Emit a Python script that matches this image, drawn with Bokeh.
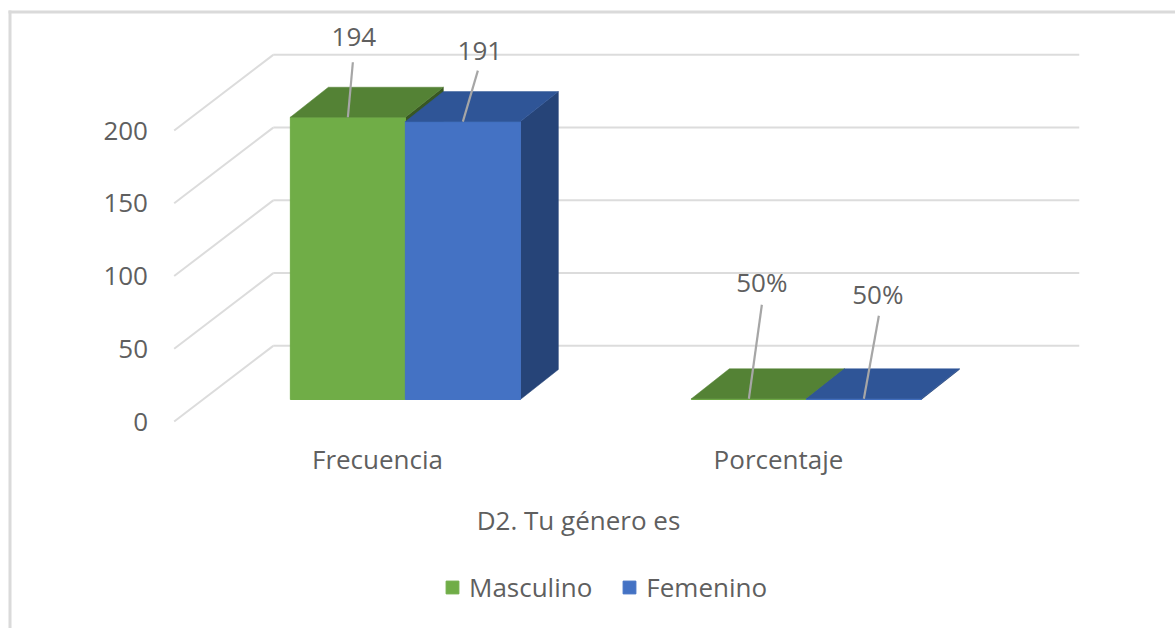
from bokeh.embed import file_html
from bokeh.resources import INLINE
from bokeh.plotting import figure
from bokeh.models import BoxAnnotation, FixedTicker, Legend, LegendItem, Range1d
from bokeh.core.properties import value

# ---- data ----
categories = ["Frecuencia", "Porcentaje"]
masculino = [194, 0.5]
femenino = [191, 0.5]
masculino_labels = ["194", "50%"]
femenino_labels = ["191", "50%"]
y_ticks = [0, 50, 100, 150, 200]
x_title = "D2. Tu género es"
series_names = ["Masculino", "Femenino"]

# ---- styling ----
FONT = "Open Sans"
FS = "26px"
TEXT = "#5f5f5f"
GRID = "#dcdcdc"
LEADER = "#a6a6a6"
GREEN, GREEN_DARK, GREEN_SIDE = "#70ad47", "#548235", "#385723"
BLUE, BLUE_DARK, BLUE_SIDE = "#4472c4", "#2f5597", "#264478"

W, H = 1175, 628
PX_X = 401.0    # pixels per category
PX_Y = 1.455    # pixels per value unit
X0 = -377 / PX_X
Y0 = -207 / PX_Y

WALL_DY = 52
WALL_FRONT = (-0.5, 1.5)
WALL_START = -0.507
WALL_BACK = (-0.26, 1.75)
BAR_W = 115 / PX_X
BAR_SHIFT = 0.0695
BAR_BASE = 22 / PX_Y
DEPTH_X = 38 / PX_X
DEPTH_Y = 30 / PX_Y
AXIS_Y = -9 / PX_Y

LEADER_PX = {"m": [(5, 55), (13, 94)], "f": [(15, 51), (15, 83)]}
LABEL_PX = {"m": [(1, 25), (0, 23)], "f": [(2, 20), (-1, 22)]}

p = figure(width=W, height=H, output_backend="svg", toolbar_location=None,
           x_range=Range1d(X0, X0 + W / PX_X),
           y_range=Range1d(Y0, Y0 + H / PX_Y),
           min_border=0)
p.outline_line_color = None
p.grid.visible = False

# chart-area border (top and left edges)
for box in (dict(left=8, right=11, top=10, bottom=H), dict(left=8, right=W, top=10, bottom=13)):
    p.add_layout(BoxAnnotation(left_units="canvas", right_units="canvas", top_units="canvas",
                               bottom_units="canvas", fill_color="#dadada", fill_alpha=1,
                               line_color=None, level="underlay", **box))

# axes
xa, ya = p.xaxis[0], p.yaxis[0]
for ax in (xa, ya):
    ax.axis_line_color = None
    ax.major_tick_line_color = None
    ax.minor_tick_line_color = None
    ax.major_label_text_font = FONT
    ax.major_label_text_font_size = FS
    ax.major_label_text_color = TEXT
ya.fixed_location = WALL_FRONT[0]
ya.ticker = FixedTicker(ticks=y_ticks)
ya.major_label_standoff = 23
xa.fixed_location = AXIS_Y
xa.bounds = (WALL_FRONT[0], WALL_FRONT[1])
xa.ticker = FixedTicker(ticks=list(range(len(categories))))
xa.major_label_overrides = {i: c for i, c in enumerate(categories)}
xa.major_label_standoff = 4
xa.axis_label = x_title
xa.axis_label_text_font = FONT
xa.axis_label_text_font_style = "normal"
xa.axis_label_text_font_size = FS
xa.axis_label_text_color = TEXT
xa.axis_label_standoff = 22

# walls: back grid lines and floor/side diagonals
for t in y_ticks:
    p.line([WALL_BACK[0], WALL_BACK[1]], [t + WALL_DY] * 2, line_color=GRID, line_width=2)
    p.line([WALL_START, WALL_BACK[0]], [t, t + WALL_DY], line_color=GRID, line_width=2)

# bars
renderers = []
for s, (vals, labels, front, top, side, key) in enumerate([
        (masculino, masculino_labels, GREEN, GREEN_DARK, GREEN_SIDE, "m"),
        (femenino, femenino_labels, BLUE, BLUE_DARK, BLUE_SIDE, "f")]):
    lefts = [i + BAR_SHIFT - BAR_W + s * BAR_W for i in range(len(vals))]
    rights = [l + BAR_W for l in lefts]
    tops = [BAR_BASE + v for v in vals]
    p.patches([[ri, ri + DEPTH_X, ri + DEPTH_X, ri] for ri in rights],
              [[BAR_BASE, BAR_BASE + DEPTH_Y, t + DEPTH_Y, t] for t in tops],
              fill_color=side, line_color=side, line_width=0.5)
    r = p.quad(left=lefts, right=rights, bottom=[BAR_BASE] * len(vals), top=tops,
               fill_color=front, line_color=front, line_width=1)
    renderers.append(r)
    p.patches([[l, ri, ri + DEPTH_X, l + DEPTH_X] for l, ri in zip(lefts, rights)],
              [[t, t, t + DEPTH_Y, t + DEPTH_Y] for t in tops],
              fill_color=top, line_color=top, line_width=0.5)
    # leaders and data labels
    for i, txt in enumerate(labels):
        cx = lefts[i] + BAR_W / 2
        ex = cx + LEADER_PX[key][i][0] / PX_X
        ey = tops[i] + LEADER_PX[key][i][1] / PX_Y
        p.line([cx, ex], [tops[i], ey], line_color=LEADER, line_width=2.2)
        p.text([ex + LABEL_PX[key][i][0] / PX_X], [ey + LABEL_PX[key][i][1] / PX_Y], text=[txt],
               text_font=value(FONT), text_font_size=FS, text_color=TEXT,
               text_align="center", text_baseline="middle")

legend = Legend(items=[LegendItem(label=n, renderers=[r]) for n, r in zip(series_names, renderers)],
                orientation="horizontal", location=(444, 23), border_line_color=None,
                background_fill_color=None, padding=0, margin=0, spacing=29,
                glyph_width=16, glyph_height=16, label_standoff=9,
                label_text_font=FONT, label_text_font_size="26px", label_text_color=TEXT)
p.add_layout(legend, "center")

open("out.html", "w").write(file_html(p, INLINE))
